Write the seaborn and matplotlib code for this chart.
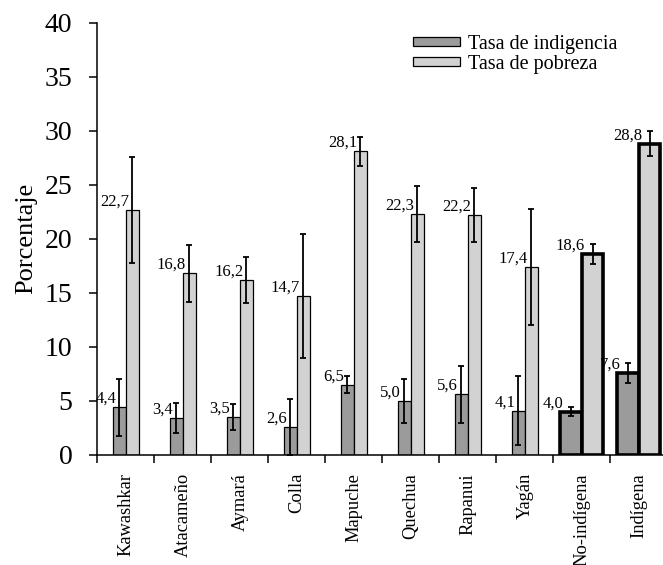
import numpy as np
import pandas as pd
import matplotlib
matplotlib.use('Agg')
import matplotlib.pyplot as plt
import seaborn as sb

# data
grupos = ['Kawashkar', 'Atacameño', 'Aymará', 'Colla', 'Mapuche',
          'Quechua', 'Rapanui', 'Yagán', 'No-indígena', 'Indígena']
indigencia = [4.4, 3.4, 3.5, 2.6, 6.5, 5.0, 5.6, 4.1, 4.0, 7.6]
pobreza = [22.7, 16.8, 16.2, 14.7, 28.1, 22.3, 22.2, 17.4, 18.6, 28.8]
err_indigencia = [2.65, 1.4, 1.2, 2.6, 0.8, 2.05, 2.6, 3.2, 0.4, 0.9]
err_pobreza = [4.9, 2.6, 2.15, 5.75, 1.35, 2.55, 2.5, 5.4, 0.95, 1.15]
series = ['Tasa de indigencia', 'Tasa de pobreza']

df = pd.DataFrame({
    'grupo': grupos * 2,
    'valor': indigencia + pobreza,
    'tasa': [series[0]] * len(grupos) + [series[1]] * len(grupos),
})
errores = [err_indigencia, err_pobreza]

sb.set_theme(style='ticks')
plt.rcParams['font.family'] = ['Liberation Serif', 'DejaVu Serif']
plt.rcParams['text.color'] = 'black'
plt.rcParams['axes.labelcolor'] = 'black'
plt.rcParams['xtick.color'] = 'black'
plt.rcParams['ytick.color'] = 'black'
plt.rcParams['axes.edgecolor'] = 'black'

fig = plt.figure(figsize=(6.63, 5.65), dpi=100)
ax = fig.add_axes([0.1468, 0.1947, 0.8597, 0.7651])

colores = ['#9b9b9b', '#d2d2d2']
sb.barplot(data=df, x='grupo', y='valor', hue='tasa', order=grupos,
           hue_order=series, palette=colores, width=0.456, saturation=1,
           edgecolor='black', linewidth=0.9, ax=ax, errorbar=None)
barras = list(ax.containers[:2])

# the two totals get wider bars with a heavy outline
ancho_total = 0.377
for i, cont in enumerate(barras):
    for j, bar in enumerate(cont):
        if j >= 8:
            bar.set_width(ancho_total)
            bar.set_x(j - ancho_total if i == 0 else j)
            bar.set_linewidth(2.6)

# error bars and value labels
for i, cont in enumerate(barras):
    xs = [b.get_x() + b.get_width() / 2 for b in cont]
    vals = [b.get_height() for b in cont]
    ax.errorbar(xs, vals, yerr=errores[i], fmt='none', ecolor='black',
                elinewidth=1.3, capsize=2.3, capthick=1.3, zorder=5)
    for b, v in zip(cont, vals):
        ax.annotate(f'{v:.1f}'.replace('.', ','), xy=(b.get_x(), v),
                    xytext=(2.4, 3.2), textcoords='offset points',
                    ha='right', va='baseline', fontsize=12)

ax.set_ylim(0, 40)
ax.set_xlim(-0.5, 9.5)
ax.set_yticks(np.arange(0, 41, 5))
ax.tick_params(axis='y', labelsize=20, direction='out', length=6,
               width=1.1, pad=12)
ax.set_xticks(np.arange(len(grupos)))
ax.set_xticklabels(grupos, rotation=90, fontsize=13.3)
ax.set_xticks(np.arange(len(grupos)) - 0.5, minor=True)
ax.tick_params(axis='x', which='major', length=0, pad=13)
ax.tick_params(axis='x', which='minor', length=6, width=1.1,
               direction='out')
ax.set_xlabel('')
ax.set_ylabel('Porcentaje', fontsize=19, labelpad=5)

for s in ['top', 'right']:
    ax.spines[s].set_visible(False)
for s in ['left', 'bottom']:
    ax.spines[s].set_linewidth(1.1)

handles, labels = ax.get_legend_handles_labels()
ax.legend(handles, labels, loc='upper left', bbox_to_anchor=(0.554, 0.972),
          frameon=False, fontsize=14.5, handlelength=2.35, handleheight=0.3,
          handletextpad=0.4, labelspacing=0.05, borderpad=0,
          borderaxespad=0)

fig.savefig('out.png', dpi=100)
